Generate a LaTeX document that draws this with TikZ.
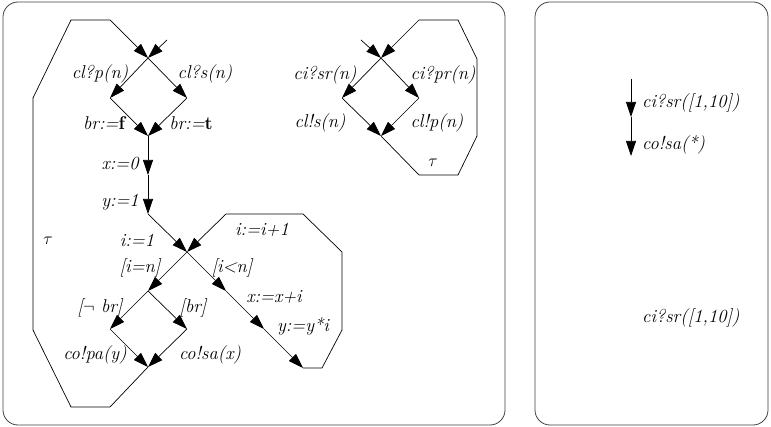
\documentclass[tikz,border=0pt]{standalone}
\usetikzlibrary{arrows.meta}
\begin{document}
\begin{tikzpicture}[x=1pt,y=-1pt,
  edge/.style={draw=black, line width=0.7pt, -{Triangle[length=15pt,width=10pt]}},
  frame/.style={draw=black!75, line width=0.8pt, rounded corners=15pt},
  lbl/.style={inner sep=0pt, font=\fontsize{18.5}{21}\selectfont\itshape},
  lbll/.style={lbl, anchor=west}]
\useasboundingbox (0,0) rectangle (771,427);
% frames
\draw[frame] (3,2) rectangle (505,425);
\draw[frame] (535,2) rectangle (768,425);

% ---- left automaton ----
\coordinate (s1) at (148,58);
\coordinate (in1) at (167,40);
\coordinate (a1) at (110,98);
\coordinate (b1) at (187,98);
\coordinate (c1) at (148,136);
\coordinate (d1) at (148,175);
\coordinate (e1) at (148,214);
\coordinate (f1) at (187,252);
\coordinate (g1) at (226,291);
\coordinate (h1) at (264,329);
\coordinate (k1) at (303,368);
\coordinate (m1) at (148,291);
\coordinate (n1) at (110,329);
\coordinate (o1) at (187,329);
\coordinate (q1) at (148,367);

\draw[edge] (in1) -- (s1);
\draw[edge] (s1) -- (a1);
\draw[edge] (s1) -- (b1);
\draw[edge] (a1) -- (c1);
\draw[edge] (b1) -- (c1);
\draw[edge] (c1) -- (d1);
\draw[edge] (d1) -- (e1);
\draw[edge] (e1) -- (f1);
\draw[edge] (f1) -- (g1);
\draw[edge] (g1) -- (h1);
\draw[edge] (h1) -- (k1);
\draw[edge] (f1) -- (m1);
\draw[edge] (m1) -- (n1);
\draw[edge] (m1) -- (o1);
\draw[edge] (n1) -- (q1);
\draw[edge] (o1) -- (q1);
% tau loop back to the start
\draw[edge] (q1) -- (110,407) -- (71,407) -- (33,330) -- (33,98) -- (71,20) -- (110,20) -- (s1);
% i:=i+1 loop
\draw[edge] (k1) -- (322,368) -- (342,330) -- (342,252) -- (303,214) -- (226,214) -- (f1);

\node[lbl] (l1) at (100,74) {cl?p(n)};
\node[lbl] (l2) at (205,74) {cl?s(n)};
\node[lbl] (l3) at (104,123) {br:=\textbf{\upshape f}};
\node[lbl] (l4) at (191,123) {br:=\textbf{\upshape t}};
\node[lbl] (l5) at (120,164) {x:=0};
\node[lbl] (l6) at (120,202) {y:=1};
\node[lbl] (l7) at (48,241) {$\tau$};
\node[lbl] (l8) at (137,240) {i:=1};
\node[lbl] (l9) at (262,230) {i:=i+1};
\node[lbl] (l10) at (140,268) {[i=n]};
\node[lbl] (l11) at (232,268) {[i<n]};
\node[lbl] (l12) at (274,297) {x:=x+i};
\node[lbl] (l13) at (303,326) {y:=y*i};
\node[lbl] (l14) at (100,308) {[$\neg$ br]};
\node[lbl] (l15) at (193,308) {[br]};
\node[lbl] (l16) at (95,355) {co!pa(y)};
\node[lbl] (l17) at (210,355) {co!sa(x)};

% ---- right top automaton ----
\coordinate (s2) at (381,58);
\coordinate (in2) at (361,40);
\coordinate (a2) at (342,98);
\coordinate (b2) at (419,98);
\coordinate (c2) at (381,136);
\draw[edge] (in2) -- (s2);
\draw[edge] (s2) -- (a2);
\draw[edge] (s2) -- (b2);
\draw[edge] (a2) -- (c2);
\draw[edge] (b2) -- (c2);
\draw[edge] (c2) -- (419,175) -- (458,175) -- (477,136) -- (477,59) -- (458,20) -- (419,20) -- (s2);

\node[lbl] (r1) at (325,75) {ci?sr(n)};
\node[lbl] (r2) at (443,75) {ci?pr(n)};
\node[lbl] (r3) at (320,123) {cl!s(n)};
\node[lbl] (r4) at (437,123) {cl!p(n)};
\node[lbl] (r5) at (433,163) {$\tau$};

% ---- right frame ----
\coordinate (t0) at (631,79);
\coordinate (t1) at (631,117);
\coordinate (t2) at (631,156);
\draw[edge] (t0) -- (t1);
\draw[edge] (t1) -- (t2);
\node[lbll] (u1) at (642,103) {ci?sr([1,10])};
\node[lbll] (u2) at (642,145) {co!sa(*)};
\node[lbll] (u3) at (642,318) {ci?sr([1,10])};
\end{tikzpicture}
\end{document}
